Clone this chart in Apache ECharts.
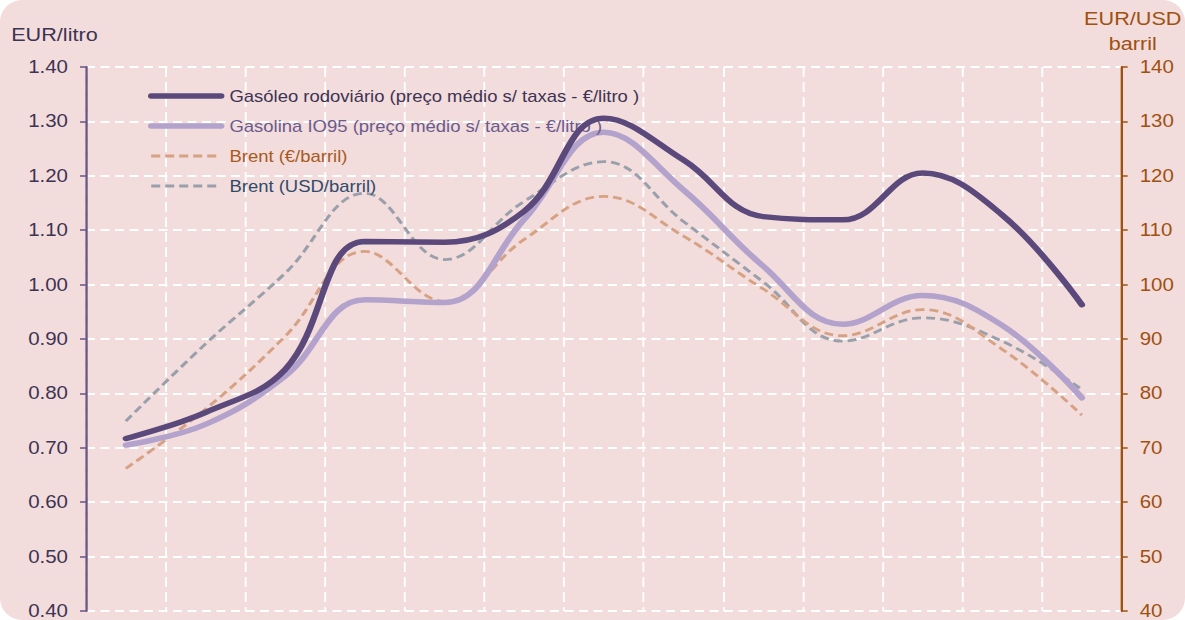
<!DOCTYPE html>
<html>
<head>
<meta charset="utf-8">
<script src="https://cdn.jsdelivr.net/npm/echarts@6/dist/echarts.min.js"></script>
<style>
  html, body { margin: 0; padding: 0; background: #ffffff; overflow: hidden; }
  #wrap { position: absolute; left: 0; top: 0; width: 1185px; height: 620px; background: #f2dcdc; border-radius: 22px; overflow: hidden; }
  #chart { position: absolute; left: 0; top: 0; width: 1013px; height: 620px; transform-origin: 0 0; transform: scaleX(1.16979); }
</style>
</head>
<body>
<div id="wrap"><div id="chart"></div></div>
<script>
// Data (13 equally spaced periods; x labels are not visible in the source)
const categories = ['1','2','3','4','5','6','7','8','9','10','11','12','13'];
const gasoleo  = [0.717, 0.765, 0.844, 1.079, 1.078, 1.135, 1.306, 1.229, 1.125, 1.119, 1.205, 1.128, 0.963];
const gasolina = [0.705, 0.743, 0.832, 0.972, 0.967, 1.120, 1.280, 1.174, 1.034, 0.927, 0.980, 0.925, 0.792];
const brentEUR = [66.2, 77.1, 90.5, 106.1, 96.9, 108.3, 116.2, 108.9, 99.2, 90.6, 95.4, 88.1, 76.0];
const brentUSD = [74.9, 89.1, 102.1, 116.8, 104.6, 115.3, 122.6, 111.6, 100.5, 89.6, 93.9, 89.6, 80.7];
const leftTicks  = { min: 0.4, max: 1.4, interval: 0.1 };
const rightTicks = { min: 40, max: 140, interval: 10 };
const names = [
  'Gasóleo rodoviário (preço médio s/ taxas - €/litro )',
  'Gasolina IO95 (preço médio s/ taxas - €/litro )',
  'Brent (€/barril)',
  'Brent (USD/barril)'
];

// The source picture is horizontally stretched; the chart is drawn at 1013px and stretched by S.
const S = 1185 / 1013;
const px = v => v / S;

const chart = echarts.init(document.getElementById('chart'), null, { renderer: 'svg', width: 1013, height: 620 });
const FONT = 'Liberation Sans, Arial, sans-serif';
const hDash = { color: '#ffffff', width: 1.8, type: [px(9), px(5.5)] };
const vDash = { color: '#ffffff', width: 1.6, type: [10, 5] };

const colors = { gasoleo: '#5b497c', gasolina: '#b3a2cb', eur: '#d6a283', usd: '#9aa0ab' };

chart.setOption({
  backgroundColor: 'transparent',
  animation: false,
  textStyle: { fontFamily: FONT },
  grid: { left: px(86), right: px(63), top: 67, bottom: 8, containLabel: false },
  legend: {
    orient: 'vertical',
    left: px(148), top: 88,
    padding: 0,
    itemWidth: px(70), itemHeight: 16, itemGap: 14,
    textStyle: { fontFamily: FONT, fontSize: 15.8, padding: [0, 0, 0, 2] },
    data: [
      { name: names[0], textStyle: { color: '#3d3354' }, itemStyle: { opacity: 0 },
        lineStyle: { color: colors.gasoleo, width: 5.5, type: 'solid', cap: 'round' } },
      { name: names[1], textStyle: { color: '#6b5a8e' }, itemStyle: { opacity: 0 },
        lineStyle: { color: colors.gasolina, width: 5.5, type: 'solid', cap: 'round' } },
      { name: names[2], textStyle: { color: '#a85a1c' }, itemStyle: { opacity: 0 },
        lineStyle: { color: colors.eur, width: 2.8, type: [px(9), px(5)] } },
      { name: names[3], textStyle: { color: '#2f4a6a' }, itemStyle: { opacity: 0 },
        lineStyle: { color: colors.usd, width: 2.8, type: [px(9), px(5)] } }
    ]
  },
  xAxis: {
    type: 'category',
    data: categories,
    boundaryGap: true,
    axisLine: { show: false },
    axisTick: { show: false },
    axisLabel: { show: false },
    splitLine: { show: true, lineStyle: vDash }
  },
  yAxis: [
    {
      type: 'value',
      min: leftTicks.min, max: leftTicks.max, interval: leftTicks.interval,
      name: 'EUR/litro',
      nameLocation: 'end',
      nameGap: 23,
      nameTextStyle: { color: '#3d3354', fontSize: 18.5, align: 'center', padding: [0, 54, 0, 0] },
      axisLine: { show: true, lineStyle: { color: '#6b5585', width: 2 } },
      axisTick: { show: true, length: px(6), lineStyle: { color: '#6b5585', width: 1.5 } },
      axisLabel: { color: '#3d3354', fontSize: 17.5, margin: px(18), formatter: v => v.toFixed(2) },
      splitLine: { show: true, lineStyle: hDash }
    },
    {
      type: 'value',
      min: rightTicks.min, max: rightTicks.max, interval: rightTicks.interval,
      name: 'EUR/USD\nbarril',
      nameLocation: 'end',
      nameGap: 11,
      nameTextStyle: { color: '#a0500f', fontSize: 18.5, align: 'center', lineHeight: 25, padding: [0, 0, 0, 19] },
      position: 'right',
      axisLine: { show: true, lineStyle: { color: '#a0500f', width: 2 } },
      axisTick: { show: true, length: px(6), lineStyle: { color: '#a0500f', width: 1.5 } },
      axisLabel: { color: '#a0500f', fontSize: 17.5, margin: px(18) },
      splitLine: { show: false }
    }
  ],
  series: [
    {
      name: names[3], type: 'line', yAxisIndex: 1, data: brentUSD, smooth: 0.4,
      symbol: 'none', z: 2,
      lineStyle: { color: colors.usd, width: 2.8, type: [px(9), px(5)] }, itemStyle: { color: colors.usd }
    },
    {
      name: names[2], type: 'line', yAxisIndex: 1, data: brentEUR, smooth: 0.4,
      symbol: 'none', z: 2,
      lineStyle: { color: colors.eur, width: 2.8, type: [px(9), px(5)] }, itemStyle: { color: colors.eur }
    },
    {
      name: names[1], type: 'line', yAxisIndex: 0, data: gasolina, smooth: 0.4,
      symbol: 'none', z: 3,
      lineStyle: { color: colors.gasolina, width: 5.5, cap: 'round' }, itemStyle: { color: colors.gasolina }
    },
    {
      name: names[0], type: 'line', yAxisIndex: 0, data: gasoleo, smooth: 0.4,
      symbol: 'none', z: 4,
      lineStyle: { color: colors.gasoleo, width: 5.5, cap: 'round' }, itemStyle: { color: colors.gasoleo }
    }
  ]
});
</script>
</body>
</html>
